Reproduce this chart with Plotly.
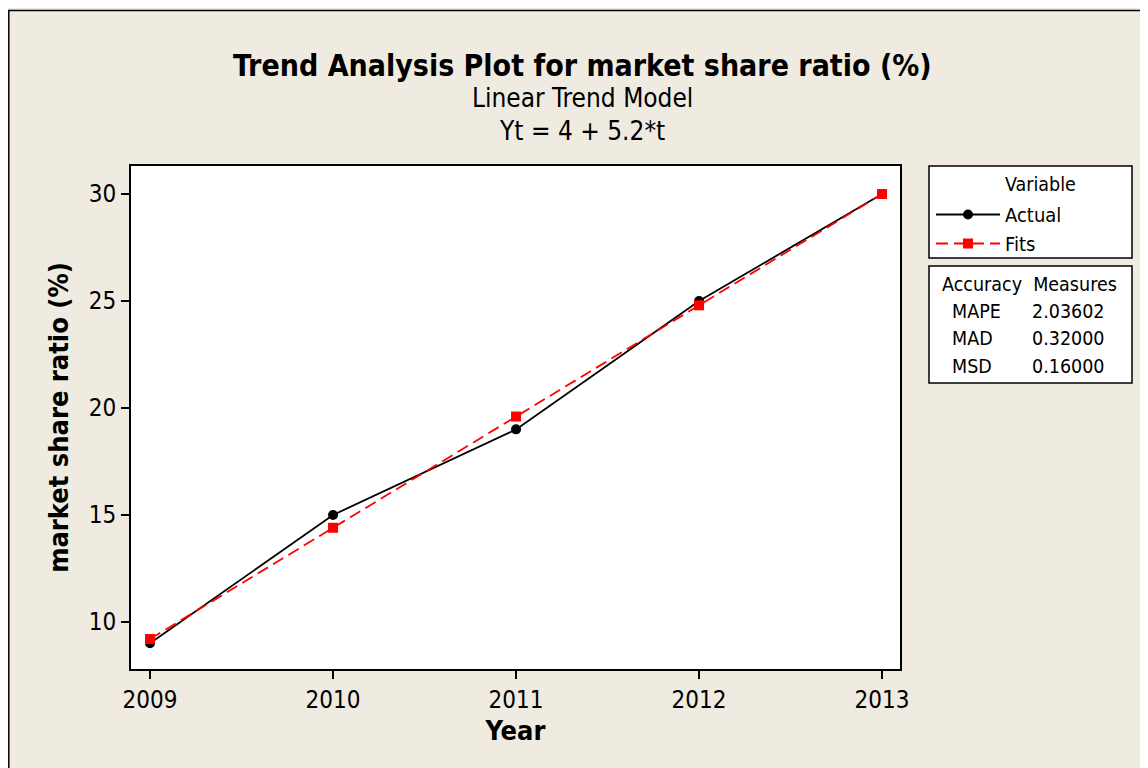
import plotly.graph_objects as go

years = [2009, 2010, 2011, 2012, 2013]
actual = [9, 15, 19, 25, 30]
fits = [9.2, 14.4, 19.6, 24.8, 30.0]
measure_names = ["MAPE", "MAD", "MSD"]
measure_values = ["2.03602", "0.32000", "0.16000"]

FONT = "DejaVu Sans Condensed, DejaVu Sans, sans-serif"
BG = "#EFEBE1"

OFF = 8                      # page body margin
W, H = 1140, 760             # figure size
SW, SH = OFF + W, OFF + H    # screen extents
L, R, T, B = 131, 900, 166, 669   # plot area, screen coords
pw, ph = R - L, B - T


def px(x):
    return (x - L) / pw


def py(y):
    return (B - y) / ph


fig = go.Figure()
fig.add_trace(go.Scatter(
    x=years, y=actual, mode="lines+markers", name="Actual",
    line=dict(color="black", width=1.8),
    marker=dict(symbol="circle", size=10, color="black"),
))
fig.add_trace(go.Scatter(
    x=years, y=fits, mode="lines+markers", name="Fits",
    line=dict(color="#FF0000", width=1.8, dash="12px,6px"),
    marker=dict(symbol="square", size=10, color="#FF0000"),
))

shapes = [
    # outer frame
    dict(type="rect", xref="paper", yref="paper", x0=px(8.8), x1=px(SW + 20),
         y0=py(SH + 20), y1=py(10.5), line=dict(color="black", width=1.5)),
    # legend box
    dict(type="rect", xref="paper", yref="paper", x0=px(929), x1=px(1132),
         y0=py(258), y1=py(166), line=dict(color="black", width=1.5),
         fillcolor="white", layer="below"),
    # accuracy box
    dict(type="rect", xref="paper", yref="paper", x0=px(929), x1=px(1132),
         y0=py(383), y1=py(266), line=dict(color="black", width=1.5),
         fillcolor="white", layer="below"),
]

annotations = [
    dict(text="<b>Trend Analysis Plot for market share ratio (%)</b>", x=px(582), y=py(66),
         font=dict(size=30)),
    dict(text="Linear Trend Model", x=px(582), y=py(98), font=dict(size=26)),
    dict(text="Yt = 4 + 5.2*t", x=px(582), y=py(131), font=dict(size=26)),
    dict(text="Variable", x=px(1040), y=py(184), font=dict(size=19.5)),
    dict(text="Accuracy  Measures", x=px(1029), y=py(284), font=dict(size=19.5)),
]
for i, (n, v) in enumerate(zip(measure_names, measure_values)):
    yy = 311 + i * 27.5
    annotations.append(dict(text=n, x=px(950), y=py(yy), xanchor="left", font=dict(size=19.5)))
    annotations.append(dict(text=v, x=px(1107), y=py(yy), xanchor="right", font=dict(size=19.5)))

for a in annotations:
    a.update(xref="paper", yref="paper", showarrow=False)
    a.setdefault("xanchor", "center")
    a["yanchor"] = "middle"
    a["font"].update(family=FONT, color="black")

fig.update_layout(
    width=W, height=H,
    margin=dict(l=L - OFF, r=SW - R, t=T - OFF, b=SH - B, pad=0),
    paper_bgcolor=BG, plot_bgcolor="white",
    font=dict(family=FONT, color="black", size=24),
    showlegend=True,
    legend=dict(x=px(931), y=py(195), xanchor="left", yanchor="top",
                bgcolor="rgba(0,0,0,0)", borderwidth=0,
                font=dict(size=20, family=FONT), itemwidth=64, tracegroupgap=0),
    shapes=shapes, annotations=annotations,
)
fig.update_xaxes(
    range=[2008.896, 2013.098], tickvals=years, ticktext=[str(y) for y in years],
    showline=True, mirror=True, linecolor="black", linewidth=2,
    ticks="outside", ticklen=8, tickwidth=2, tickcolor="black",
    showgrid=False, zeroline=False,
    title=dict(text="<b>Year</b>", font=dict(size=27), standoff=8),
    tickfont=dict(size=24),
)
fig.update_yaxes(
    range=[7.8, 31.31], tickvals=[10, 15, 20, 25, 30],
    showline=True, mirror=True, linecolor="black", linewidth=2,
    ticks="outside", ticklen=8, tickwidth=2, tickcolor="black",
    showgrid=False, zeroline=False,
    title=dict(text="<b>market share ratio (%)</b>", font=dict(size=27), standoff=12),
    tickfont=dict(size=24),
)

fig.write_html("out.html")
